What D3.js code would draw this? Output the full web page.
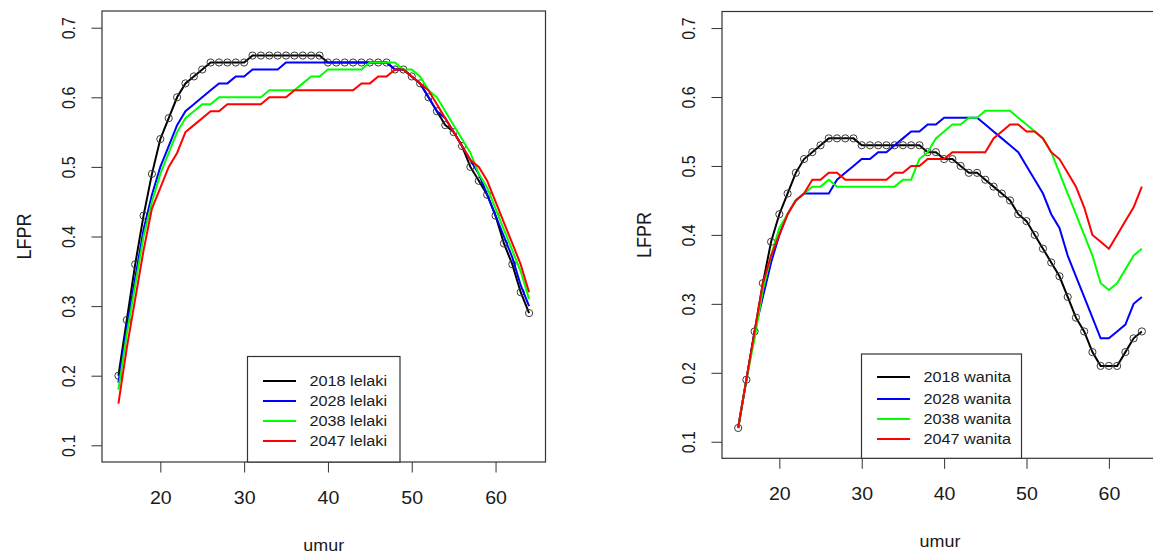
<!DOCTYPE html>
<html>
<head>
<meta charset="utf-8">
<script src="https://cdn.jsdelivr.net/npm/d3@7"></script>
<style>
  body { margin: 0; background: #fff; }
  text { font-family: "Liberation Sans", Arial, sans-serif; fill: #1a1a1a; }
</style>
</head>
<body>
<script>
// ages on the x axis (umur)
const ages = [15,16,17,18,19,20,21,22,23,24,25,26,27,28,29,30,31,32,33,34,35,36,37,38,39,
              40,41,42,43,44,45,46,47,48,49,50,51,52,53,54,55,56,57,58,59,60,61,62,63,64];

// LFPR lelaki (men)
const lelaki2018 = [.20,.28,.36,.43,.49,.54,.57,.60,.62,.63,.64,.65,.65,.65,.65,.65,.66,.66,.66,.66,.66,.66,.66,.66,.66,
                    .65,.65,.65,.65,.65,.65,.65,.65,.64,.64,.63,.62,.60,.58,.56,.55,.53,.50,.48,.46,.43,.39,.36,.32,.29];
const lelaki2028 = [.19,.27,.34,.41,.46,.50,.53,.56,.58,.59,.60,.61,.62,.62,.63,.63,.64,.64,.64,.64,.65,.65,.65,.65,.65,
                    .65,.65,.65,.65,.65,.65,.65,.65,.64,.64,.63,.62,.60,.58,.57,.55,.53,.51,.49,.46,.43,.40,.37,.33,.30];
const lelaki2038 = [.18,.26,.33,.40,.45,.49,.52,.55,.57,.58,.59,.59,.60,.60,.60,.60,.60,.60,.61,.61,.61,.61,.62,.63,.63,
                    .64,.64,.64,.64,.64,.65,.65,.65,.65,.64,.64,.63,.61,.60,.58,.56,.54,.52,.49,.47,.44,.41,.38,.35,.31];
const lelaki2047 = [.16,.24,.31,.38,.44,.47,.50,.52,.55,.56,.57,.58,.58,.59,.59,.59,.59,.59,.60,.60,.60,.61,.61,.61,.61,
                    .61,.61,.61,.61,.62,.62,.63,.63,.64,.64,.63,.62,.61,.59,.57,.55,.53,.51,.50,.48,.45,.42,.39,.36,.32];

// LFPR wanita (women)
const wanita2018 = [.12,.19,.26,.33,.39,.43,.46,.49,.51,.52,.53,.54,.54,.54,.54,.53,.53,.53,.53,.53,.53,.53,.53,.52,.52,
                    .51,.51,.50,.49,.49,.48,.47,.46,.45,.43,.42,.40,.38,.36,.34,.31,.28,.26,.23,.21,.21,.21,.23,.25,.26];
const wanita2028 = [.12,.19,.26,.31,.36,.40,.43,.45,.46,.46,.46,.46,.48,.49,.50,.51,.51,.52,.52,.53,.54,.55,.55,.56,.56,
                    .57,.57,.57,.57,.57,.56,.55,.54,.53,.52,.50,.48,.46,.43,.41,.37,.34,.31,.28,.25,.25,.26,.27,.30,.31];
const wanita2038 = [.12,.19,.25,.32,.37,.41,.43,.45,.46,.47,.47,.48,.47,.47,.47,.47,.47,.47,.47,.47,.48,.48,.51,.52,.54,
                    .55,.56,.56,.57,.57,.58,.58,.58,.58,.57,.56,.55,.54,.52,.49,.46,.43,.40,.37,.33,.32,.33,.35,.37,.38];
const wanita2047 = [.12,.19,.26,.33,.37,.40,.43,.45,.46,.48,.48,.49,.49,.48,.48,.48,.48,.48,.48,.49,.49,.50,.50,.51,.51,
                    .51,.52,.52,.52,.52,.52,.54,.55,.56,.56,.55,.55,.54,.52,.51,.49,.47,.44,.40,.39,.38,.40,.42,.44,.47];

const xTicks = [20, 30, 40, 50, 60];
const yTicks = [0.1, 0.2, 0.3, 0.4, 0.5, 0.6, 0.7];
const seriesColors = ["#000000", "#0000ff", "#00ff00", "#ff0000"];
const lelakiLabels = ["2018 lelaki", "2028 lelaki", "2038 lelaki", "2047 lelaki"];
const wanitaLabels = ["2018 wanita", "2028 wanita", "2038 wanita", "2047 wanita"];

const SX = 1.12; // glyphs in the picture are a little wider than tall

const svg = d3.select("body").append("svg")
  .attr("width", 1153)
  .attr("height", 556);

function addText(g, x, y, str, size, rotate) {
  return g.append("text")
    .attr("transform", `translate(${x},${y}) scale(${SX},1)` + (rotate ? " rotate(-90)" : ""))
    .attr("text-anchor", "middle")
    .attr("font-size", size)
    .text(str);
}

function drawPanel(p) {
  const g = svg.append("g");

  // R-style 4% padding around 15..64 and 0.1..0.7
  const x = d3.scaleLinear().domain([13.04, 65.96]).range([p.left, p.right]);
  const y = d3.scaleLinear().domain([0.076, 0.724]).range([p.bottom, p.top]);

  // axes
  const xAxis = g.append("g")
    .attr("transform", `translate(0,${p.bottom})`)
    .call(d3.axisBottom(x).tickValues(xTicks).tickSize(10.5).tickFormat(d3.format("d")));
  xAxis.select(".domain").remove();
  xAxis.selectAll("line").attr("stroke", "#333");
  xAxis.selectAll("text")
    .attr("y", null).attr("dy", null)
    .attr("transform", `translate(0,41.5) scale(${SX},1)`)
    .attr("font-size", 17.5)
    .attr("font-family", null)
    .attr("fill", "#1a1a1a");

  const yAxis = g.append("g")
    .attr("transform", `translate(${p.left},0)`)
    .call(d3.axisLeft(y).tickValues(yTicks).tickSize(10.5).tickFormat(d3.format(".1f")));
  yAxis.select(".domain").remove();
  yAxis.selectAll("line").attr("stroke", "#333");
  yAxis.selectAll("text")
    .attr("x", null).attr("dy", null)
    .attr("text-anchor", "middle")
    .attr("transform", `translate(-27,0) scale(${SX},1) rotate(-90)`)
    .attr("font-size", 16)
    .attr("font-family", null)
    .attr("fill", "#1a1a1a");

  // axis titles
  addText(g, (p.left + p.right) / 2, p.bottom + 89, "umur", 16);
  addText(g, p.left - 71, (p.top + p.bottom) / 2, "LFPR", 18, true);

  // curves
  const line = d3.line()
    .x((d, i) => x(ages[i]))
    .y(d => y(d));

  p.series.forEach((s, k) => {
    g.append("path")
      .datum(s)
      .attr("fill", "none")
      .attr("stroke", seriesColors[k])
      .attr("stroke-width", 2)
      .attr("d", line);

    if (k === 0) {
      g.selectAll(".pt")
        .data(s)
        .enter()
        .append("circle")
        .attr("cx", (d, i) => x(ages[i]))
        .attr("cy", d => y(d))
        .attr("r", 3.6)
        .attr("fill", "none")
        .attr("stroke", "#3a3a3a")
        .attr("stroke-width", 1);
    }
  });

  // plot frame
  g.append("rect")
    .attr("x", p.left)
    .attr("y", p.top)
    .attr("width", p.right - p.left)
    .attr("height", p.bottom - p.top)
    .attr("fill", "none")
    .attr("stroke", "#333")
    .attr("stroke-width", 1.2);

  // legend
  const lg = p.legend;
  g.append("rect")
    .attr("x", lg.x)
    .attr("y", lg.y)
    .attr("width", lg.w)
    .attr("height", p.bottom - lg.y)
    .attr("fill", "#fff")
    .attr("stroke", "#333")
    .attr("stroke-width", 1.2);

  p.labels.forEach((lab, k) => {
    // keep the 2px swatch on an even pixel pair so its colour survives
    const ry = 2 * Math.round((lg.y + 22.5 + k * 20.5) / 2) + 1;
    g.append("line")
      .attr("x1", Math.round(lg.x + 15)).attr("x2", Math.round(lg.x + 48))
      .attr("y1", ry).attr("y2", ry)
      .attr("stroke", seriesColors[k])
      .attr("stroke-width", 2)
      .attr("shape-rendering", "crispEdges");
    g.append("text")
      .attr("transform", `translate(${lg.x + 62},${ry + 5}) scale(${SX},1)`)
      .attr("font-size", 14.5)
      .text(lab);
  });
}

drawPanel({
  left: 102, right: 545.5, top: 11, bottom: 462,
  series: [lelaki2018, lelaki2028, lelaki2038, lelaki2047],
  labels: lelakiLabels,
  legend: { x: 247.5, y: 356.5, w: 152.5 }
});

drawPanel({
  left: 722, right: 1158, top: 11.5, bottom: 458.3,
  series: [wanita2018, wanita2028, wanita2038, wanita2047],
  labels: wanitaLabels,
  legend: { x: 861.5, y: 354, w: 160 }
});
</script>
</body>
</html>
